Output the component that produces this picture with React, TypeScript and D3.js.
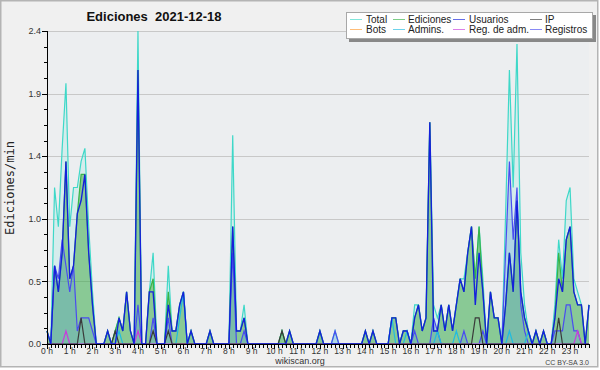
import React from "react";
import * as d3 from "d3";

// ---- data: edits per minute, one value per 10 minutes (00:00 .. 23:50) ----
const total = [
  0.1, 0, 1.2, 0.9, 1.5, 2.0,
  0.9, 1.2, 1.2, 1.4, 1.5, 0.9,
  0.4, 0, 0, 0, 0.1, 0,
  0.1, 0.2, 0.1, 0.4, 0.1, 0,
  2.4, 0, 0, 0.4, 0.7, 0,
  0, 0, 0.6, 0.1, 0.1, 0.3,
  0.4, 0, 0.1, 0, 0, 0,
  0, 0.1, 0, 0, 0, 0,
  0, 1.6, 0.1, 0.1, 0.3, 0,
  0, 0, 0, 0, 0, 0,
  0, 0, 0.1, 0, 0.1, 0,
  0, 0, 0, 0, 0, 0,
  0.1, 0, 0, 0, 0.1, 0,
  0, 0, 0, 0, 0, 0,
  0.1, 0, 0.1, 0, 0, 0,
  0, 0.2, 0.2, 0, 0.1, 0.1,
  0, 0.3, 0.3, 0.1, 0.2, 1.7,
  0.3, 0.2, 0.3, 0.1, 0.3, 0.1,
  0.3, 0.5, 0.5, 0.7, 0.9, 0.5,
  0.9, 0.5, 0, 0.4, 0.2, 0.2,
  0, 1.0, 2.1, 1.2, 2.3, 0.7,
  0.3, 0.1, 0, 0.1, 0, 0.1,
  0, 0, 0.3, 0.8, 0.5, 1.1,
  1.2, 0.5, 0.4, 0.3, 0, 0.3,
];

const ediciones = [
  0.1, 0, 0.6, 0.4, 0.7, 1.4,
  0.5, 0.6, 1.0, 1.3, 1.3, 0.7,
  0.3, 0, 0, 0, 0.1, 0,
  0.1, 0.2, 0.1, 0.4, 0.1, 0,
  2.1, 0, 0, 0.4, 0.5, 0,
  0, 0, 0.4, 0.1, 0.1, 0.3,
  0.4, 0, 0.1, 0, 0, 0,
  0, 0.1, 0, 0, 0, 0,
  0, 0.9, 0.1, 0.1, 0.2, 0,
  0, 0, 0, 0, 0, 0,
  0, 0, 0.1, 0, 0.1, 0,
  0, 0, 0, 0, 0, 0,
  0.1, 0, 0, 0, 0, 0,
  0, 0, 0, 0, 0, 0,
  0.1, 0, 0.1, 0, 0, 0,
  0, 0.2, 0.2, 0, 0.1, 0.1,
  0, 0.2, 0.3, 0.1, 0.2, 1.7,
  0.1, 0.1, 0.3, 0.1, 0.3, 0.1,
  0.3, 0.5, 0.4, 0.7, 0.9, 0.5,
  0.9, 0.4, 0, 0.4, 0.2, 0.2,
  0, 0.3, 0.7, 0.4, 1.1, 0.4,
  0.2, 0.1, 0, 0.1, 0, 0.1,
  0, 0, 0.2, 0.7, 0.4, 0.8,
  0.9, 0.4, 0.3, 0.3, 0, 0.3,
];

const usuarios = [
  0.1, 0, 0.6, 0.4, 0.7, 1.4,
  0.5, 0.6, 1.0, 1.1, 1.3, 0.7,
  0.3, 0, 0, 0, 0.1, 0,
  0, 0.2, 0.1, 0.4, 0.1, 0,
  2.1, 0, 0, 0.4, 0.4, 0,
  0, 0, 0.3, 0.1, 0.1, 0.3,
  0.4, 0, 0.1, 0, 0, 0,
  0, 0.1, 0, 0, 0, 0,
  0, 0.9, 0.1, 0.1, 0.2, 0,
  0, 0, 0, 0, 0, 0,
  0, 0, 0, 0, 0.1, 0,
  0, 0, 0, 0, 0, 0,
  0.1, 0, 0, 0, 0, 0,
  0, 0, 0, 0, 0, 0,
  0.1, 0, 0.1, 0, 0, 0,
  0, 0.2, 0.2, 0, 0.1, 0.1,
  0, 0.2, 0.3, 0.1, 0.2, 1.7,
  0.1, 0.1, 0.3, 0.1, 0.3, 0.1,
  0.3, 0.5, 0.4, 0.7, 0.9, 0.3,
  0.7, 0.4, 0, 0.4, 0.2, 0.2,
  0, 0.3, 0.7, 0.4, 1.1, 0.4,
  0.2, 0.1, 0, 0.1, 0, 0.1,
  0, 0, 0.2, 0.5, 0.4, 0.8,
  0.9, 0.4, 0.3, 0.3, 0, 0.3,
];

const ip = [
  0, 0, 0, 0, 0, 0,
  0, 0, 0, 0.2, 0, 0,
  0, 0, 0, 0, 0, 0,
  0.1, 0, 0, 0, 0, 0,
  0, 0, 0, 0, 0.1, 0,
  0, 0, 0.1, 0, 0, 0,
  0, 0, 0, 0, 0, 0,
  0, 0, 0, 0, 0, 0,
  0, 0, 0, 0, 0, 0,
  0, 0, 0, 0, 0, 0,
  0, 0, 0.1, 0, 0, 0,
  0, 0, 0, 0, 0, 0,
  0, 0, 0, 0, 0, 0,
  0, 0, 0, 0, 0, 0,
  0, 0, 0, 0, 0, 0,
  0, 0, 0, 0, 0, 0,
  0, 0, 0, 0, 0, 0,
  0, 0, 0, 0, 0, 0,
  0, 0, 0, 0, 0, 0.2,
  0.2, 0, 0, 0, 0, 0,
  0, 0, 0, 0, 0, 0,
  0, 0, 0, 0, 0, 0,
  0, 0, 0, 0.2, 0, 0,
  0, 0, 0, 0, 0, 0,
];

const bots = [
  0, 0, 0, 0, 0, 0,  0, 0, 0, 0, 0, 0,  0, 0, 0, 0, 0, 0,  0, 0, 0, 0, 0, 0,
  0, 0, 0, 0, 0, 0,  0, 0, 0, 0, 0, 0,  0, 0, 0, 0, 0, 0,  0, 0, 0, 0, 0, 0,
  0, 0, 0, 0, 0, 0,  0, 0, 0, 0, 0, 0,  0, 0, 0, 0, 0, 0,  0, 0, 0, 0, 0, 0,
  0, 0, 0, 0, 0, 0,  0, 0, 0, 0, 0, 0,  0, 0, 0, 0, 0, 0,  0, 0, 0, 0, 0, 0,
  0, 0, 0, 0, 0, 0,  0, 0, 0, 0, 0, 0,  0, 0, 0, 0, 0, 0,  0, 0, 0, 0, 0, 0,
  0, 0, 0, 0, 0, 0,  0, 0, 0, 0, 0, 0,  0, 0, 0, 0, 0, 0,  0, 0, 0, 0, 0, 0,
];

const admins = [
  0, 0, 0, 0, 0, 0,
  0, 0, 0, 0, 0, 0,
  0, 0, 0, 0, 0, 0,
  0, 0.1, 0, 0, 0, 0,
  0, 0, 0, 0, 0, 0,
  0, 0, 0, 0, 0, 0.2,
  0.4, 0, 0, 0, 0, 0,
  0, 0, 0, 0, 0, 0,
  0, 0, 0, 0, 0, 0,
  0, 0, 0, 0, 0, 0,
  0, 0, 0, 0, 0, 0,
  0, 0, 0, 0, 0, 0,
  0, 0, 0, 0, 0, 0,
  0, 0, 0, 0, 0, 0,
  0, 0, 0, 0, 0, 0,
  0, 0.2, 0, 0, 0, 0.1,
  0, 0, 0, 0, 0, 0,
  0, 0.1, 0, 0, 0, 0,
  0.1, 0, 0, 0, 0, 0,
  0, 0, 0, 0, 0, 0,
  0, 0, 0.1, 0, 0, 0,
  0, 0.1, 0, 0, 0, 0,
  0, 0, 0, 0, 0, 0,
  0, 0, 0, 0, 0, 0,
];

const regAdm = [
  0, 0, 0, 0, 0, 0.1,
  0, 0, 0, 0, 0, 0,
  0, 0, 0, 0, 0, 0,
  0, 0, 0, 0, 0, 0,
  0.1, 0, 0, 0, 0, 0,
  0, 0, 0, 0, 0, 0,
  0, 0, 0, 0, 0, 0,
  0, 0, 0, 0, 0, 0,
  0, 0, 0, 0, 0, 0,
  0, 0, 0, 0, 0, 0,
  0, 0, 0, 0, 0, 0,
  0, 0, 0, 0, 0, 0,
  0, 0, 0, 0, 0, 0,
  0, 0, 0, 0, 0, 0,
  0, 0, 0, 0, 0, 0,
  0, 0, 0, 0, 0, 0,
  0, 0, 0, 0, 0, 0,
  0, 0, 0, 0, 0, 0,
  0, 0, 0, 0, 0, 0,
  0, 0, 0, 0, 0, 0,
  0, 0, 0, 0, 0, 0,
  0, 0, 0, 0, 0, 0,
  0, 0, 0, 0, 0, 0,
  0, 0, 0.1, 0, 0, 0,
];

const registros = [
  0, 0, 0.6, 0.5, 0.8, 0.6,
  0.4, 0.6, 0.1, 0.2, 0.2, 0.2,
  0.1, 0, 0, 0, 0, 0,
  0, 0, 0, 0, 0, 0,
  0.3, 0, 0, 0, 0.2, 0,
  0, 0, 0.2, 0, 0, 0,
  0, 0, 0, 0, 0, 0,
  0, 0, 0, 0, 0, 0,
  0, 0.7, 0, 0, 0.1, 0,
  0, 0, 0, 0, 0, 0,
  0, 0, 0, 0, 0, 0,
  0, 0, 0, 0, 0, 0,
  0, 0, 0, 0, 0.1, 0,
  0, 0, 0, 0, 0, 0,
  0, 0, 0, 0, 0, 0,
  0, 0, 0, 0, 0, 0,
  0, 0.1, 0, 0, 0, 0,
  0.2, 0.1, 0, 0, 0, 0,
  0, 0, 0.1, 0, 0, 0,
  0, 0.1, 0, 0, 0, 0,
  0, 0.7, 1.4, 0.8, 1.2, 0.3,
  0.1, 0, 0, 0, 0, 0,
  0, 0, 0.1, 0.1, 0.1, 0.3,
  0.3, 0.1, 0.1, 0, 0, 0,
];

const hourLabels = [
  "0 h", "1 h", "2 h", "3 h", "4 h", "5 h", "6 h", "7 h", "8 h", "9 h", "10 h", "11 h",
  "12 h", "13 h", "14 h", "15 h", "16 h", "17 h", "18 h", "19 h", "20 h", "21 h", "22 h", "23 h",
];
const yTicks = [0, 0.48, 0.96, 1.44, 1.92, 2.4];
const yMinorTicks = [0.12, 0.24, 0.36, 0.6, 0.72, 0.84, 1.08, 1.2, 1.32, 1.56, 1.68, 1.8, 2.04, 2.16, 2.28];

const legendRows = [
  ["Total", "Ediciones", "Usuarios", "IP"],
  ["Bots", "Admins.", "Reg. de adm.", "Registros"],
];

const COLORS: Record<string, string> = {
  Total: "#3ed8c8",
  Ediciones: "#38b448",
  Usuarios: "#1420dc",
  IP: "#3a3a3a",
  Bots: "#ff9a30",
  "Admins.": "#20bce0",
  "Reg. de adm.": "#c83cdc",
  Registros: "#4a4cf0",
};

const SANS = "'Liberation Sans', Arial, sans-serif";

export default function App() {
  const W = 600;
  const H = 370;
  const x = d3.scaleLinear().domain([0, 143]).range([47, 589]);
  const y = d3.scaleLinear().domain([0, 2.4]).range([344, 31]);

  const area = d3
    .area<number>()
    .x((_, i) => x(i))
    .y0(y(0))
    .y1((d) => y(d));
  const line = d3
    .line<number>()
    .x((_, i) => x(i))
    .y((d) => y(d));

  const areas = [
    { data: total, fill: "#40e0d0", op: 0.13 },
    { data: ediciones, fill: "#2ca02c", op: 0.45 },
    { data: registros, fill: "#5aa0d8", op: 0.3 },
  ];
  const lines = [
    { data: total, name: "Total", w: 1.2 },
    { data: ediciones, name: "Ediciones", w: 1.2 },
    { data: registros, name: "Registros", w: 1.2 },
    { data: bots, name: "Bots", w: 1 },
    { data: admins, name: "Admins.", w: 1.2 },
    { data: regAdm, name: "Reg. de adm.", w: 1.2 },
    { data: ip, name: "IP", w: 1.2 },
    { data: usuarios, name: "Usuarios", w: 1.35 },
  ];

  const minuteTicks = d3.range(0, 144);
  const legendColX = [350, 393, 453, 530];
  const legendTextX = [366, 408, 469, 545];
  const legendRowY = [19.5, 29.5];

  return (
    <svg
      width={W}
      height={H}
      style={{ position: "absolute", left: 0, top: 0, display: "block" }}
    >
      <rect x={0} y={0} width={W} height={H} fill="#ffffff" />
      <rect x={0.75} y={0.75} width={597} height={366} fill="#f0f0f0" stroke="#b4b4b4" strokeWidth={1.5} />
      <rect x={47} y={31} width={542} height={313} fill="#eceef0" />

      {/* grid */}
      {yTicks.slice(1).map((t) => (
        <line key={"g" + t} x1={47} x2={589} y1={Math.round(y(t)) + 0.5} y2={Math.round(y(t)) + 0.5} stroke="#c8c8c8" strokeWidth={1} />
      ))}

      {/* areas */}
      {areas.map((a, k) => (
        <path key={"a" + k} d={area(a.data) || ""} fill={a.fill} fillOpacity={a.op} stroke="none" />
      ))}
      {/* lines */}
      {lines.map((l) => (
        <path key={"l" + l.name} d={line(l.data) || ""} fill="none" stroke={COLORS[l.name]} strokeWidth={l.w} strokeLinejoin="miter" />
      ))}

      {/* y axis */}
      <line x1={47.5} x2={47.5} y1={31} y2={344.5} stroke="#000" strokeWidth={1} />
      {yTicks.map((t) => (
        <g key={"yt" + t}>
          <line x1={42} x2={47} y1={Math.round(y(t)) + 0.5} y2={Math.round(y(t)) + 0.5} stroke="#000" />
          <text x={41} y={y(t)} dy="0.35em" textAnchor="end" fontFamily={SANS} fontSize={9} fill="#333">
            {d3.format(".1f")(t)}
          </text>
        </g>
      ))}
      {yMinorTicks.map((t) => (
        <line key={"ym" + t} x1={44} x2={47} y1={Math.round(y(t)) + 0.5} y2={Math.round(y(t)) + 0.5} stroke="#000" />
      ))}

      {/* x axis */}
      <line x1={47} x2={589.5} y1={344.5} y2={344.5} stroke="#000" strokeWidth={1} />
      {minuteTicks.map((m) => (
        <line key={"xt" + m} x1={Math.round(x(m)) + 0.5} x2={Math.round(x(m)) + 0.5} y1={344} y2={m % 6 === 0 ? 349 : 348} stroke="#000" />
      ))}
      {hourLabels.map((lab, h) => (
        <text key={"xl" + h} x={x(h * 6)} y={354} textAnchor="middle" fontFamily={SANS} fontSize={8.5} fill="#333">
          {lab}
        </text>
      ))}

      {/* y title */}
      <text
        transform="translate(14,188) rotate(-90)"
        textAnchor="middle"
        fontFamily="'DejaVu Sans Mono', monospace"
        fontSize={12}
        fill="#222"
      >
        Ediciones/min
      </text>

      {/* title */}
      <text x={154} y={21} textAnchor="middle" fontFamily={SANS} fontWeight="bold" fontSize={13} fill="#111" style={{ whiteSpace: "pre" }}>
        {"Ediciones  2021-12-18"}
      </text>

      {/* legend */}
      <rect x={349} y={15} width={247} height={27} fill="#888" />
      <rect x={346.5} y={12.5} width={246} height={26} fill="#ffffff" stroke="#a8a8a8" />
      {legendRows.map((row, r) =>
        row.map((name, c) => (
          <g key={"lg" + name}>
            <line x1={legendColX[c]} x2={legendColX[c] + 12} y1={legendRowY[r]} y2={legendRowY[r]} stroke={COLORS[name]} strokeOpacity={0.65} strokeWidth={1} />
            <text x={legendTextX[c]} y={legendRowY[r] + 3.5} fontFamily={SANS} fontSize={10} fill="#222">
              {name}
            </text>
          </g>
        ))
      )}

      {/* footer */}
      <text x={300} y={364} textAnchor="middle" fontFamily={SANS} fontSize={9} fill="#333">
        wikiscan.org
      </text>
      <text x={589} y={365} textAnchor="end" fontFamily={SANS} fontSize={7} fill="#444">
        CC BY-SA 3.0
      </text>
    </svg>
  );
}
